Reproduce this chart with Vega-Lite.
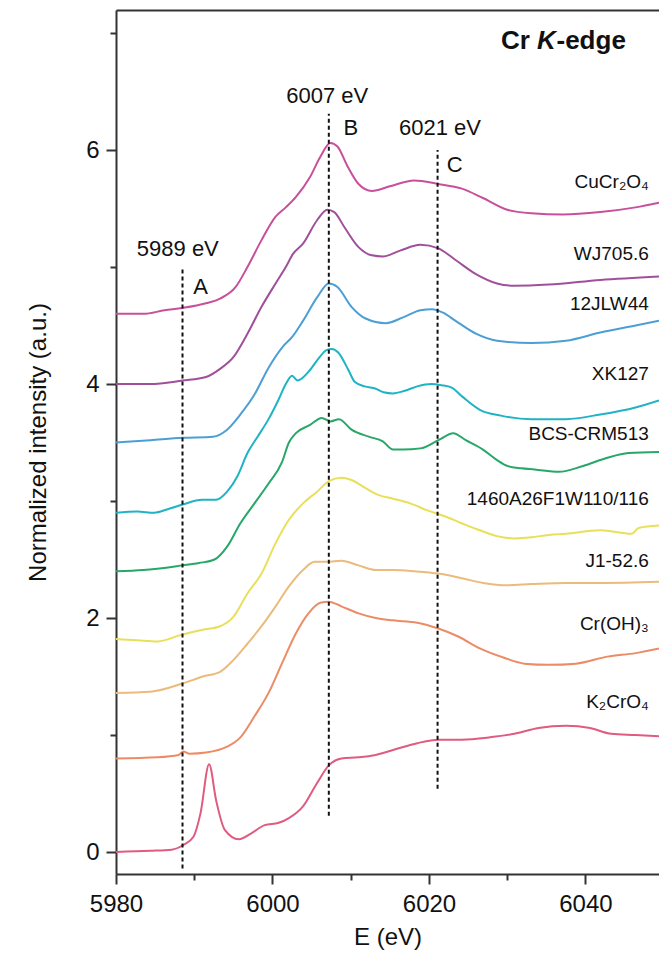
{
  "$schema": "https://vega.github.io/schema/vega-lite/v6.json",
  "width": 543,
  "height": 864,
  "autosize": {"type": "none"},
  "padding": {"left": 116, "top": 10, "right": 0, "bottom": 84},
  "background": "white",
  "config": {
    "view": {"stroke": null},
    "font": "Liberation Sans",
    "axis": {
      "grid": false,
      "domainColor": "#333333",
      "domainWidth": 2,
      "tickColor": "#333333",
      "tickWidth": 2,
      "labelFont": "Liberation Sans",
      "labelFontSize": 24,
      "labelColor": "#111111",
      "titleFont": "Liberation Sans",
      "titleFontSize": 24,
      "titleFontWeight": "normal",
      "titleColor": "#111111"
    }
  },
  "datasets": {
    "spectra": [
      {"s": "CuCr2O4", "E": 5980.0, "v": 4.60}, {"s": "CuCr2O4", "E": 5983.5, "v": 4.60}, {"s": "CuCr2O4", "E": 5986.2, "v": 4.63}, {"s": "CuCr2O4", "E": 5988.5, "v": 4.65}, {"s": "CuCr2O4", "E": 5991.5, "v": 4.69}, {"s": "CuCr2O4", "E": 5993.3, "v": 4.73}, {"s": "CuCr2O4", "E": 5995.3, "v": 4.83}, {"s": "CuCr2O4", "E": 5996.8, "v": 5.00}, {"s": "CuCr2O4", "E": 5998.6, "v": 5.23}, {"s": "CuCr2O4", "E": 6000.4, "v": 5.43}, {"s": "CuCr2O4", "E": 6001.7, "v": 5.51}, {"s": "CuCr2O4", "E": 6003.0, "v": 5.60}, {"s": "CuCr2O4", "E": 6004.8, "v": 5.77}, {"s": "CuCr2O4", "E": 6006.1, "v": 5.94}, {"s": "CuCr2O4", "E": 6007.4, "v": 6.06}, {"s": "CuCr2O4", "E": 6008.3, "v": 6.03}, {"s": "CuCr2O4", "E": 6009.6, "v": 5.86}, {"s": "CuCr2O4", "E": 6011.0, "v": 5.71}, {"s": "CuCr2O4", "E": 6012.7, "v": 5.65}, {"s": "CuCr2O4", "E": 6015.0, "v": 5.69}, {"s": "CuCr2O4", "E": 6018.1, "v": 5.74}, {"s": "CuCr2O4", "E": 6021.2, "v": 5.71}, {"s": "CuCr2O4", "E": 6024.2, "v": 5.67}, {"s": "CuCr2O4", "E": 6026.9, "v": 5.59}, {"s": "CuCr2O4", "E": 6030.0, "v": 5.49}, {"s": "CuCr2O4", "E": 6033.1, "v": 5.46}, {"s": "CuCr2O4", "E": 6037.1, "v": 5.45}, {"s": "CuCr2O4", "E": 6041.9, "v": 5.47}, {"s": "CuCr2O4", "E": 6046.4, "v": 5.51}, {"s": "CuCr2O4", "E": 6049.4, "v": 5.55},

      {"s": "WJ705.6", "E": 5980.0, "v": 4.00}, {"s": "WJ705.6", "E": 5984.4, "v": 4.00}, {"s": "WJ705.6", "E": 5988.5, "v": 4.03}, {"s": "WJ705.6", "E": 5991.5, "v": 4.06}, {"s": "WJ705.6", "E": 5993.3, "v": 4.13}, {"s": "WJ705.6", "E": 5995.0, "v": 4.23}, {"s": "WJ705.6", "E": 5996.8, "v": 4.43}, {"s": "WJ705.6", "E": 5998.6, "v": 4.66}, {"s": "WJ705.6", "E": 6000.4, "v": 4.86}, {"s": "WJ705.6", "E": 6001.7, "v": 5.00}, {"s": "WJ705.6", "E": 6002.6, "v": 5.11}, {"s": "WJ705.6", "E": 6003.9, "v": 5.20}, {"s": "WJ705.6", "E": 6005.7, "v": 5.40}, {"s": "WJ705.6", "E": 6007.0, "v": 5.49}, {"s": "WJ705.6", "E": 6007.9, "v": 5.47}, {"s": "WJ705.6", "E": 6009.2, "v": 5.34}, {"s": "WJ705.6", "E": 6011.0, "v": 5.17}, {"s": "WJ705.6", "E": 6012.7, "v": 5.10}, {"s": "WJ705.6", "E": 6014.1, "v": 5.09}, {"s": "WJ705.6", "E": 6016.3, "v": 5.14}, {"s": "WJ705.6", "E": 6018.9, "v": 5.19}, {"s": "WJ705.6", "E": 6021.2, "v": 5.16}, {"s": "WJ705.6", "E": 6023.4, "v": 5.06}, {"s": "WJ705.6", "E": 6026.0, "v": 4.94}, {"s": "WJ705.6", "E": 6028.7, "v": 4.86}, {"s": "WJ705.6", "E": 6030.9, "v": 4.84}, {"s": "WJ705.6", "E": 6035.3, "v": 4.85}, {"s": "WJ705.6", "E": 6041.9, "v": 4.89}, {"s": "WJ705.6", "E": 6049.4, "v": 4.92},

      {"s": "12JLW44", "E": 5980.0, "v": 3.50}, {"s": "12JLW44", "E": 5984.4, "v": 3.52}, {"s": "12JLW44", "E": 5988.5, "v": 3.54}, {"s": "12JLW44", "E": 5992.4, "v": 3.55}, {"s": "12JLW44", "E": 5994.2, "v": 3.61}, {"s": "12JLW44", "E": 5995.9, "v": 3.74}, {"s": "12JLW44", "E": 5997.7, "v": 3.91}, {"s": "12JLW44", "E": 5999.5, "v": 4.14}, {"s": "12JLW44", "E": 6001.2, "v": 4.31}, {"s": "12JLW44", "E": 6002.6, "v": 4.41}, {"s": "12JLW44", "E": 6003.9, "v": 4.54}, {"s": "12JLW44", "E": 6005.7, "v": 4.74}, {"s": "12JLW44", "E": 6007.2, "v": 4.86}, {"s": "12JLW44", "E": 6008.3, "v": 4.83}, {"s": "12JLW44", "E": 6010.1, "v": 4.66}, {"s": "12JLW44", "E": 6011.9, "v": 4.56}, {"s": "12JLW44", "E": 6014.5, "v": 4.52}, {"s": "12JLW44", "E": 6016.7, "v": 4.57}, {"s": "12JLW44", "E": 6018.9, "v": 4.63}, {"s": "12JLW44", "E": 6020.4, "v": 4.64}, {"s": "12JLW44", "E": 6021.8, "v": 4.61}, {"s": "12JLW44", "E": 6023.4, "v": 4.54}, {"s": "12JLW44", "E": 6026.0, "v": 4.43}, {"s": "12JLW44", "E": 6028.7, "v": 4.37}, {"s": "12JLW44", "E": 6033.1, "v": 4.35}, {"s": "12JLW44", "E": 6037.5, "v": 4.37}, {"s": "12JLW44", "E": 6041.9, "v": 4.44}, {"s": "12JLW44", "E": 6046.4, "v": 4.50}, {"s": "12JLW44", "E": 6049.4, "v": 4.54},

      {"s": "XK127", "E": 5980.0, "v": 2.90}, {"s": "XK127", "E": 5982.7, "v": 2.91}, {"s": "XK127", "E": 5984.9, "v": 2.90}, {"s": "XK127", "E": 5986.6, "v": 2.93}, {"s": "XK127", "E": 5988.5, "v": 2.97}, {"s": "XK127", "E": 5991.0, "v": 3.01}, {"s": "XK127", "E": 5992.8, "v": 3.01}, {"s": "XK127", "E": 5994.2, "v": 3.08}, {"s": "XK127", "E": 5995.5, "v": 3.21}, {"s": "XK127", "E": 5996.8, "v": 3.41}, {"s": "XK127", "E": 5998.1, "v": 3.55}, {"s": "XK127", "E": 5999.5, "v": 3.70}, {"s": "XK127", "E": 6000.8, "v": 3.87}, {"s": "XK127", "E": 6001.7, "v": 4.00}, {"s": "XK127", "E": 6002.5, "v": 4.07}, {"s": "XK127", "E": 6003.2, "v": 4.03}, {"s": "XK127", "E": 6003.8, "v": 4.05}, {"s": "XK127", "E": 6004.8, "v": 4.12}, {"s": "XK127", "E": 6005.9, "v": 4.22}, {"s": "XK127", "E": 6006.9, "v": 4.29}, {"s": "XK127", "E": 6007.6, "v": 4.30}, {"s": "XK127", "E": 6008.4, "v": 4.27}, {"s": "XK127", "E": 6009.7, "v": 4.12}, {"s": "XK127", "E": 6010.5, "v": 4.02}, {"s": "XK127", "E": 6011.8, "v": 3.98}, {"s": "XK127", "E": 6013.2, "v": 3.96}, {"s": "XK127", "E": 6014.2, "v": 3.93}, {"s": "XK127", "E": 6015.4, "v": 3.92}, {"s": "XK127", "E": 6016.8, "v": 3.94}, {"s": "XK127", "E": 6018.5, "v": 3.98}, {"s": "XK127", "E": 6020.3, "v": 4.00}, {"s": "XK127", "E": 6021.6, "v": 3.99}, {"s": "XK127", "E": 6022.9, "v": 3.97}, {"s": "XK127", "E": 6024.3, "v": 3.89}, {"s": "XK127", "E": 6026.5, "v": 3.78}, {"s": "XK127", "E": 6029.2, "v": 3.73}, {"s": "XK127", "E": 6033.1, "v": 3.70}, {"s": "XK127", "E": 6037.5, "v": 3.70}, {"s": "XK127", "E": 6041.9, "v": 3.74}, {"s": "XK127", "E": 6046.4, "v": 3.80}, {"s": "XK127", "E": 6049.4, "v": 3.86},

      {"s": "BCS-CRM513", "E": 5980.0, "v": 2.40}, {"s": "BCS-CRM513", "E": 5983.5, "v": 2.41}, {"s": "BCS-CRM513", "E": 5988.5, "v": 2.45}, {"s": "BCS-CRM513", "E": 5990.6, "v": 2.47}, {"s": "BCS-CRM513", "E": 5992.6, "v": 2.50}, {"s": "BCS-CRM513", "E": 5994.2, "v": 2.61}, {"s": "BCS-CRM513", "E": 5995.9, "v": 2.81}, {"s": "BCS-CRM513", "E": 5997.7, "v": 2.98}, {"s": "BCS-CRM513", "E": 5999.5, "v": 3.15}, {"s": "BCS-CRM513", "E": 6001.2, "v": 3.33}, {"s": "BCS-CRM513", "E": 6002.1, "v": 3.50}, {"s": "BCS-CRM513", "E": 6003.0, "v": 3.58}, {"s": "BCS-CRM513", "E": 6004.8, "v": 3.65}, {"s": "BCS-CRM513", "E": 6006.3, "v": 3.71}, {"s": "BCS-CRM513", "E": 6007.4, "v": 3.68}, {"s": "BCS-CRM513", "E": 6008.5, "v": 3.70}, {"s": "BCS-CRM513", "E": 6010.1, "v": 3.61}, {"s": "BCS-CRM513", "E": 6012.3, "v": 3.55}, {"s": "BCS-CRM513", "E": 6014.1, "v": 3.51}, {"s": "BCS-CRM513", "E": 6015.4, "v": 3.44}, {"s": "BCS-CRM513", "E": 6016.7, "v": 3.44}, {"s": "BCS-CRM513", "E": 6018.9, "v": 3.45}, {"s": "BCS-CRM513", "E": 6021.2, "v": 3.52}, {"s": "BCS-CRM513", "E": 6023.1, "v": 3.58}, {"s": "BCS-CRM513", "E": 6024.7, "v": 3.52}, {"s": "BCS-CRM513", "E": 6026.9, "v": 3.44}, {"s": "BCS-CRM513", "E": 6028.7, "v": 3.35}, {"s": "BCS-CRM513", "E": 6030.0, "v": 3.30}, {"s": "BCS-CRM513", "E": 6031.8, "v": 3.28}, {"s": "BCS-CRM513", "E": 6033.5, "v": 3.27}, {"s": "BCS-CRM513", "E": 6036.6, "v": 3.25}, {"s": "BCS-CRM513", "E": 6039.7, "v": 3.30}, {"s": "BCS-CRM513", "E": 6042.8, "v": 3.37}, {"s": "BCS-CRM513", "E": 6045.5, "v": 3.41}, {"s": "BCS-CRM513", "E": 6049.4, "v": 3.42},

      {"s": "1460A26F1W110/116", "E": 5980.0, "v": 1.82}, {"s": "1460A26F1W110/116", "E": 5982.7, "v": 1.81}, {"s": "1460A26F1W110/116", "E": 5985.3, "v": 1.80}, {"s": "1460A26F1W110/116", "E": 5988.5, "v": 1.86}, {"s": "1460A26F1W110/116", "E": 5991.1, "v": 1.90}, {"s": "1460A26F1W110/116", "E": 5993.3, "v": 1.93}, {"s": "1460A26F1W110/116", "E": 5995.0, "v": 2.01}, {"s": "1460A26F1W110/116", "E": 5996.8, "v": 2.21}, {"s": "1460A26F1W110/116", "E": 5998.6, "v": 2.38}, {"s": "1460A26F1W110/116", "E": 6000.4, "v": 2.64}, {"s": "1460A26F1W110/116", "E": 6002.1, "v": 2.84}, {"s": "1460A26F1W110/116", "E": 6003.9, "v": 2.98}, {"s": "1460A26F1W110/116", "E": 6005.7, "v": 3.08}, {"s": "1460A26F1W110/116", "E": 6007.2, "v": 3.17}, {"s": "1460A26F1W110/116", "E": 6008.8, "v": 3.20}, {"s": "1460A26F1W110/116", "E": 6010.1, "v": 3.18}, {"s": "1460A26F1W110/116", "E": 6011.9, "v": 3.11}, {"s": "1460A26F1W110/116", "E": 6013.6, "v": 3.05}, {"s": "1460A26F1W110/116", "E": 6015.4, "v": 3.02}, {"s": "1460A26F1W110/116", "E": 6017.6, "v": 2.98}, {"s": "1460A26F1W110/116", "E": 6019.8, "v": 2.92}, {"s": "1460A26F1W110/116", "E": 6022.0, "v": 2.87}, {"s": "1460A26F1W110/116", "E": 6024.2, "v": 2.81}, {"s": "1460A26F1W110/116", "E": 6026.5, "v": 2.75}, {"s": "1460A26F1W110/116", "E": 6028.7, "v": 2.70}, {"s": "1460A26F1W110/116", "E": 6030.9, "v": 2.68}, {"s": "1460A26F1W110/116", "E": 6033.1, "v": 2.69}, {"s": "1460A26F1W110/116", "E": 6035.3, "v": 2.71}, {"s": "1460A26F1W110/116", "E": 6037.5, "v": 2.72}, {"s": "1460A26F1W110/116", "E": 6041.9, "v": 2.75}, {"s": "1460A26F1W110/116", "E": 6045.9, "v": 2.72}, {"s": "1460A26F1W110/116", "E": 6046.8, "v": 2.77}, {"s": "1460A26F1W110/116", "E": 6049.4, "v": 2.79},

      {"s": "J1-52.6", "E": 5980.0, "v": 1.36}, {"s": "J1-52.6", "E": 5984.4, "v": 1.37}, {"s": "J1-52.6", "E": 5988.5, "v": 1.44}, {"s": "J1-52.6", "E": 5991.1, "v": 1.50}, {"s": "J1-52.6", "E": 5993.3, "v": 1.54}, {"s": "J1-52.6", "E": 5995.0, "v": 1.64}, {"s": "J1-52.6", "E": 5996.8, "v": 1.78}, {"s": "J1-52.6", "E": 5998.6, "v": 1.93}, {"s": "J1-52.6", "E": 6000.4, "v": 2.10}, {"s": "J1-52.6", "E": 6002.1, "v": 2.27}, {"s": "J1-52.6", "E": 6003.9, "v": 2.41}, {"s": "J1-52.6", "E": 6005.4, "v": 2.48}, {"s": "J1-52.6", "E": 6007.0, "v": 2.48}, {"s": "J1-52.6", "E": 6008.8, "v": 2.49}, {"s": "J1-52.6", "E": 6011.0, "v": 2.45}, {"s": "J1-52.6", "E": 6013.2, "v": 2.41}, {"s": "J1-52.6", "E": 6015.4, "v": 2.41}, {"s": "J1-52.6", "E": 6018.1, "v": 2.40}, {"s": "J1-52.6", "E": 6021.2, "v": 2.38}, {"s": "J1-52.6", "E": 6024.2, "v": 2.34}, {"s": "J1-52.6", "E": 6026.9, "v": 2.30}, {"s": "J1-52.6", "E": 6030.0, "v": 2.28}, {"s": "J1-52.6", "E": 6033.1, "v": 2.29}, {"s": "J1-52.6", "E": 6037.5, "v": 2.30}, {"s": "J1-52.6", "E": 6041.9, "v": 2.30}, {"s": "J1-52.6", "E": 6049.4, "v": 2.31},

      {"s": "Cr(OH)3", "E": 5980.0, "v": 0.80}, {"s": "Cr(OH)3", "E": 5985.3, "v": 0.81}, {"s": "Cr(OH)3", "E": 5988.0, "v": 0.83}, {"s": "Cr(OH)3", "E": 5988.6, "v": 0.86}, {"s": "Cr(OH)3", "E": 5989.4, "v": 0.84}, {"s": "Cr(OH)3", "E": 5991.5, "v": 0.85}, {"s": "Cr(OH)3", "E": 5994.2, "v": 0.90}, {"s": "Cr(OH)3", "E": 5995.9, "v": 0.98}, {"s": "Cr(OH)3", "E": 5997.7, "v": 1.16}, {"s": "Cr(OH)3", "E": 5999.5, "v": 1.36}, {"s": "Cr(OH)3", "E": 6001.2, "v": 1.61}, {"s": "Cr(OH)3", "E": 6003.0, "v": 1.87}, {"s": "Cr(OH)3", "E": 6004.6, "v": 2.04}, {"s": "Cr(OH)3", "E": 6006.1, "v": 2.13}, {"s": "Cr(OH)3", "E": 6007.2, "v": 2.14}, {"s": "Cr(OH)3", "E": 6008.8, "v": 2.10}, {"s": "Cr(OH)3", "E": 6011.0, "v": 2.04}, {"s": "Cr(OH)3", "E": 6013.2, "v": 2.00}, {"s": "Cr(OH)3", "E": 6015.4, "v": 1.98}, {"s": "Cr(OH)3", "E": 6018.5, "v": 1.96}, {"s": "Cr(OH)3", "E": 6021.2, "v": 1.91}, {"s": "Cr(OH)3", "E": 6023.8, "v": 1.84}, {"s": "Cr(OH)3", "E": 6026.5, "v": 1.74}, {"s": "Cr(OH)3", "E": 6029.6, "v": 1.66}, {"s": "Cr(OH)3", "E": 6032.2, "v": 1.61}, {"s": "Cr(OH)3", "E": 6035.3, "v": 1.60}, {"s": "Cr(OH)3", "E": 6038.8, "v": 1.61}, {"s": "Cr(OH)3", "E": 6042.8, "v": 1.67}, {"s": "Cr(OH)3", "E": 6046.4, "v": 1.70}, {"s": "Cr(OH)3", "E": 6049.4, "v": 1.74},

      {"s": "K2CrO4", "E": 5980.0, "v": 0.00}, {"s": "K2CrO4", "E": 5984.4, "v": 0.01}, {"s": "K2CrO4", "E": 5987.1, "v": 0.02}, {"s": "K2CrO4", "E": 5988.6, "v": 0.06}, {"s": "K2CrO4", "E": 5989.9, "v": 0.13}, {"s": "K2CrO4", "E": 5990.8, "v": 0.33}, {"s": "K2CrO4", "E": 5991.9, "v": 0.75}, {"s": "K2CrO4", "E": 5992.8, "v": 0.44}, {"s": "K2CrO4", "E": 5993.9, "v": 0.19}, {"s": "K2CrO4", "E": 5995.7, "v": 0.11}, {"s": "K2CrO4", "E": 5997.3, "v": 0.16}, {"s": "K2CrO4", "E": 5999.0, "v": 0.23}, {"s": "K2CrO4", "E": 6000.8, "v": 0.25}, {"s": "K2CrO4", "E": 6002.1, "v": 0.29}, {"s": "K2CrO4", "E": 6003.9, "v": 0.39}, {"s": "K2CrO4", "E": 6005.7, "v": 0.59}, {"s": "K2CrO4", "E": 6007.2, "v": 0.74}, {"s": "K2CrO4", "E": 6008.8, "v": 0.80}, {"s": "K2CrO4", "E": 6011.0, "v": 0.81}, {"s": "K2CrO4", "E": 6013.2, "v": 0.83}, {"s": "K2CrO4", "E": 6015.8, "v": 0.88}, {"s": "K2CrO4", "E": 6018.5, "v": 0.93}, {"s": "K2CrO4", "E": 6021.2, "v": 0.96}, {"s": "K2CrO4", "E": 6024.2, "v": 0.96}, {"s": "K2CrO4", "E": 6027.8, "v": 0.98}, {"s": "K2CrO4", "E": 6030.9, "v": 1.01}, {"s": "K2CrO4", "E": 6034.0, "v": 1.06}, {"s": "K2CrO4", "E": 6037.5, "v": 1.08}, {"s": "K2CrO4", "E": 6040.6, "v": 1.06}, {"s": "K2CrO4", "E": 6043.3, "v": 1.01}, {"s": "K2CrO4", "E": 6046.4, "v": 1.00}, {"s": "K2CrO4", "E": 6049.4, "v": 0.99}
    ],
    "refs": [
      {"E": 5988.5, "lo": -0.14, "hi": 5.00},
      {"E": 6007.2, "lo": 0.31, "hi": 6.31},
      {"E": 6021.1, "lo": 0.54, "hi": 6.00}
    ],
    "ann": [
      {"E": 5987.9, "v": 5.15, "t": "5989 eV"},
      {"E": 5990.8, "v": 4.83, "t": "A"},
      {"E": 6007.0, "v": 6.46, "t": "6007 eV"},
      {"E": 6010.0, "v": 6.19, "t": "B"},
      {"E": 6021.4, "v": 6.19, "t": "6021 eV"},
      {"E": 6023.3, "v": 5.87, "t": "C"}
    ],
    "labels": [
      {"E": 6048.1, "v": 5.73, "t": "CuCr₂O₄"},
      {"E": 6048.1, "v": 5.11, "t": "WJ705.6"},
      {"E": 6048.1, "v": 4.68, "t": "12JLW44"},
      {"E": 6048.1, "v": 4.09, "t": "XK127"},
      {"E": 6048.1, "v": 3.57, "t": "BCS-CRM513"},
      {"E": 6048.1, "v": 3.02, "t": "1460A26F1W110/116"},
      {"E": 6048.1, "v": 2.49, "t": "J1-52.6"},
      {"E": 6048.1, "v": 1.95, "t": "Cr(OH)₃"},
      {"E": 6048.1, "v": 1.28, "t": "K₂CrO₄"}
    ],
    "head": [
      {"E": 6029.2, "v": 6.93, "t": "Cr"},
      {"E": 6036.3, "v": 6.93, "t": "-edge"}
    ],
    "headK": [
      {"E": 6033.8, "v": 6.93, "t": "K"}
    ]
  },
  "resolve": {"axis": {"x": "independent", "y": "independent"}},
  "layer": [
    {
      "data": {"name": "spectra"},
      "mark": {"type": "line", "strokeWidth": 2, "interpolate": "monotone"},
      "encoding": {
        "x": {
          "field": "E", "type": "quantitative",
          "scale": {"domain": [5980, 6049.4], "nice": false, "zero": false},
          "axis": {
            "title": "E (eV)",
            "format": "d",
            "values": [5980, 5990, 6000, 6010, 6020, 6030, 6040],
            "labelExpr": "datum.value % 20 === 0 ? datum.label : ''",
            "tickSize": {"condition": {"test": "datum.value % 20 === 0", "value": 10}, "value": 6},
            "labelPadding": 8,
            "titlePadding": 9,
            "labelFlush": false,
            "labelOverlap": false
          }
        },
        "y": {
          "field": "v", "type": "quantitative",
          "scale": {"domain": [-0.188, 7.197], "nice": false, "zero": false},
          "axis": {
            "title": "Normalized intensity  (a.u.)",
            "format": "d",
            "values": [0, 1, 2, 3, 4, 5, 6, 7],
            "labelExpr": "datum.value % 2 === 0 ? datum.label : ''",
            "tickSize": {"condition": {"test": "datum.value % 2 === 0", "value": 10}, "value": 6},
            "labelPadding": 7,
            "titlePadding": 35,
            "labelOverlap": false
          }
        },
        "color": {
          "field": "s", "type": "nominal", "legend": null,
          "scale": {
            "domain": ["CuCr2O4", "WJ705.6", "12JLW44", "XK127", "BCS-CRM513", "1460A26F1W110/116", "J1-52.6", "Cr(OH)3", "K2CrO4"],
            "range": ["#c8509b", "#a0509a", "#4b9fd5", "#1fb3c4", "#27a768", "#e8e05a", "#ebbb7c", "#ec8c66", "#df5b7f"]
          }
        }
      }
    },
    {
      "data": {"name": "refs"},
      "mark": {"type": "rule", "color": "#111111", "strokeWidth": 2, "strokeDash": [4, 3]},
      "encoding": {
        "x": {"field": "E", "type": "quantitative", "axis": {"orient": "top", "labels": false, "ticks": false, "title": null, "domain": true}},
        "y": {"field": "lo", "type": "quantitative", "axis": null},
        "y2": {"field": "hi"}
      }
    },
    {
      "data": {"name": "ann"},
      "mark": {"type": "text", "fontSize": 22, "align": "center", "baseline": "middle", "color": "#111111", "font": "Liberation Sans"},
      "encoding": {
        "x": {"field": "E", "type": "quantitative", "axis": null},
        "y": {"field": "v", "type": "quantitative", "axis": null},
        "text": {"field": "t"}
      }
    },
    {
      "data": {"name": "labels"},
      "mark": {"type": "text", "fontSize": 19, "align": "right", "baseline": "middle", "color": "#111111", "font": "Liberation Sans"},
      "encoding": {
        "x": {"field": "E", "type": "quantitative", "axis": null},
        "y": {"field": "v", "type": "quantitative", "axis": null},
        "text": {"field": "t"}
      }
    },
    {
      "data": {"name": "head"},
      "mark": {"type": "text", "fontSize": 26, "fontWeight": "bold", "align": "left", "baseline": "middle", "color": "#111111", "font": "Liberation Sans"},
      "encoding": {
        "x": {"field": "E", "type": "quantitative", "axis": null},
        "y": {"field": "v", "type": "quantitative", "axis": null},
        "text": {"field": "t"}
      }
    },
    {
      "data": {"name": "headK"},
      "mark": {"type": "text", "fontSize": 26, "fontWeight": "bold", "fontStyle": "italic", "align": "left", "baseline": "middle", "color": "#111111", "font": "Liberation Sans"},
      "encoding": {
        "x": {"field": "E", "type": "quantitative", "axis": null},
        "y": {"field": "v", "type": "quantitative", "axis": null},
        "text": {"field": "t"}
      }
    }
  ]
}
